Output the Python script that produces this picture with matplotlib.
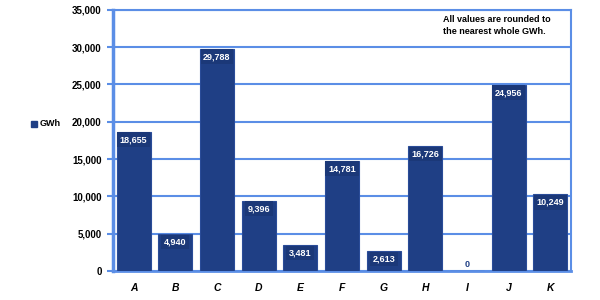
import matplotlib
matplotlib.use("Agg")
import matplotlib.pyplot as plt
from matplotlib.ticker import FuncFormatter

categories = ["A", "B", "C", "D", "E", "F", "G", "H", "I", "J", "K"]
values = [18655, 4940, 29788, 9396, 3481, 14781, 2613, 16726, 0, 24956, 10249]
yticks = [0, 5000, 10000, 15000, 20000, 25000, 30000, 35000]

navy = "#1f3f85"
grid_blue = "#5b8ee6"
fam = ["Liberation Sans", "DejaVu Sans"]

fig = plt.figure(figsize=(6, 3), dpi=100)
ax = fig.add_axes([0.188, 0.097, 0.764, 0.870])
x = list(range(len(categories)))
ax.bar(x, values, width=0.82, color=navy, edgecolor="#2a4c98", linewidth=0.8, zorder=3)
ax.set_xlim(-0.5, len(categories) - 0.5)
ax.set_ylim(0, 35000)
ax.set_yticks(yticks)
ax.yaxis.set_major_formatter(FuncFormatter(lambda v, p: f"{int(v):,}"))
ax.set_xticks(x)
ax.set_xticklabels(categories, fontstyle="italic", fontweight="bold", fontsize=7.5, family=fam)
for t in ax.get_yticklabels():
    t.set_fontweight("bold"); t.set_fontsize(7); t.set_family(fam)
ax.grid(axis="y", color=grid_blue, linewidth=1.5, zorder=0)
for s in ax.spines.values():
    s.set_color(grid_blue); s.set_linewidth(1.5)
ax.spines["left"].set_linewidth(2.5)
ax.spines["bottom"].set_linewidth(2.0)
ax.tick_params(axis="y", length=4, color=grid_blue, width=1.5, pad=4)
ax.tick_params(axis="x", length=0, pad=9)

for xi, v in zip(x, values):
    if v > 1500:
        ax.text(xi, v - 1050, f"{v:,}", ha="center", va="center", color="white",
                fontsize=6.5, fontweight="bold", family=fam, zorder=4,
                bbox=dict(boxstyle="square,pad=0.3", fc="#1b3878", ec="none"))
    else:
        ax.text(xi, v + 900, f"{v:,}", ha="center", va="center", color=navy,
                fontsize=6.5, fontweight="bold", family=fam, zorder=4)

fig.text(0.738, 0.915, "All values are rounded to\nthe nearest whole GWh.", ha="left", va="center",
         fontsize=6.5, fontweight="bold", family=fam, linespacing=1.3)

fig.patches.append(plt.Rectangle((0.052, 0.578), 0.01, 0.02, transform=fig.transFigure,
                                 color=navy, figure=fig))
fig.text(0.066, 0.588, "GWh", ha="left", va="center", fontsize=6.5, fontweight="bold", family=fam)

fig.savefig("out.png", dpi=100)
